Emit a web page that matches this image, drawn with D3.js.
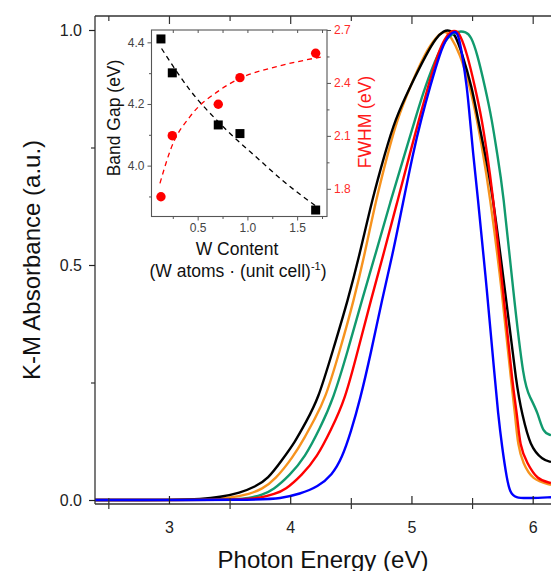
<!DOCTYPE html>
<html>
<head>
<meta charset="utf-8">
<script src="https://cdn.jsdelivr.net/npm/d3@7/dist/d3.min.js"></script>
<style>
  body { margin: 0; background: #fff; }
  svg { display: block; font-family: "Liberation Sans", Arial, sans-serif; }
</style>
</head>
<body>
<div id="chart"></div>
<script>
// main spectra: [photon energy (eV), K-M absorbance]
const specBlack = [[2.39,0],[3.091,0],[3.256,0.002],[3.421,0.006],[3.586,0.015],[3.709,0.028],[3.817,0.045],[3.932,0.085],[4.039,0.123],[4.13,0.166],[4.229,0.213],[4.353,0.319],[4.477,0.426],[4.576,0.526],[4.675,0.638],[4.782,0.738],[4.864,0.809],[4.988,0.879],[5.128,0.951],[5.202,0.983],[5.268,0.999],[5.318,1.0],[5.359,0.991],[5.417,0.951],[5.499,0.879],[5.549,0.809],[5.607,0.738],[5.664,0.66],[5.772,0.447],[5.871,0.234],[5.912,0.185],[5.978,0.113],[6.085,0.085],[6.151,0.081]]
const specOrange = [[2.39,0],[3.256,0],[3.503,0.004],[3.668,0.013],[3.767,0.023],[3.874,0.043],[4.023,0.091],[4.122,0.134],[4.196,0.17],[4.287,0.213],[4.411,0.319],[4.526,0.426],[4.617,0.526],[4.707,0.638],[4.806,0.738],[4.881,0.809],[4.988,0.879],[5.112,0.951],[5.202,0.985],[5.277,1.0],[5.318,0.989],[5.4,0.951],[5.483,0.879],[5.541,0.809],[5.59,0.738],[5.64,0.66],[5.747,0.447],[5.829,0.234],[5.854,0.185],[5.879,0.113],[5.92,0.079],[5.994,0.043],[6.151,0.032]]
const specGreen = [[2.39,0],[3.503,0],[3.668,0.004],[3.767,0.011],[3.858,0.021],[3.998,0.053],[4.122,0.091],[4.246,0.153],[4.353,0.213],[4.477,0.319],[4.592,0.426],[4.707,0.526],[4.823,0.632],[4.947,0.738],[5.029,0.809],[5.112,0.879],[5.219,0.951],[5.301,0.987],[5.384,0.998],[5.45,0.996],[5.491,0.987],[5.541,0.951],[5.607,0.879],[5.664,0.809],[5.706,0.738],[5.755,0.66],[5.838,0.447],[5.928,0.245],[5.978,0.219],[6.044,0.185],[6.085,0.143],[6.151,0.138]]
const specRed = [[2.39,0],[3.586,0],[3.751,0.004],[3.874,0.013],[3.957,0.021],[4.097,0.053],[4.221,0.091],[4.336,0.149],[4.452,0.213],[4.559,0.319],[4.666,0.426],[4.773,0.526],[4.881,0.632],[4.988,0.738],[5.062,0.809],[5.136,0.879],[5.219,0.951],[5.277,0.983],[5.326,0.998],[5.367,0.999],[5.4,0.991],[5.458,0.951],[5.524,0.879],[5.582,0.809],[5.623,0.738],[5.664,0.666],[5.755,0.447],[5.838,0.234],[5.871,0.185],[5.895,0.113],[5.953,0.079],[6.036,0.043],[6.151,0.036]]
const specBlue = [[2.39,0],[3.751,0],[3.916,0.003],[4.081,0.013],[4.229,0.028],[4.345,0.053],[4.427,0.089],[4.501,0.145],[4.576,0.213],[4.666,0.313],[4.757,0.426],[4.848,0.526],[4.93,0.632],[5.013,0.738],[5.079,0.809],[5.153,0.879],[5.235,0.951],[5.293,0.985],[5.351,0.998],[5.384,0.994],[5.417,0.951],[5.458,0.879],[5.483,0.809],[5.508,0.738],[5.541,0.66],[5.623,0.447],[5.689,0.255],[5.714,0.185],[5.747,0.113],[5.788,0.043],[5.813,0.017],[5.854,0.004],[5.978,0.004],[6.151,0.006]]

const spectra = [
  { data: specOrange, color: '#f7931e' },
  { data: specBlack, color: '#000000' },
  { data: specGreen, color: '#119a6e' },
  { data: specRed, color: '#ff0000' },
  { data: specBlue, color: '#0000ff' },
]

const xMajor = [3, 4, 5, 6]
const xMinor = [2.5, 3.5, 4.5, 5.5]
const yMajor = [0, 0.5, 1.0]
const yMinor = [0.25, 0.75]

// inset: W content vs band gap / FWHM
const wContent = [0.131, 0.245, 0.707, 0.925, 1.686]
const bandGap = [4.411, 4.301, 4.132, 4.104, 3.856]
const fwhm = [1.755, 2.101, 2.279, 2.43, 2.568]
const gapFitW = [0.137, 0.423, 0.757, 1.126, 1.36, 1.697]
const gapFit = [4.38, 4.245, 4.126, 4.017, 3.95, 3.867]
const fwhmFitW = [0.121, 0.239, 0.423, 0.724, 0.925, 1.294, 1.76]
const fwhmFit = [1.831, 2.039, 2.209, 2.36, 2.426, 2.492, 2.549]
const wMajor = [0.5, 1.0, 1.5]
const wMinor = [0.25, 0.75, 1.25, 1.75]
const gapMajor = [4.0, 4.2, 4.4]
const gapMinor = [3.9, 4.1, 4.3]
const fwhmMajor = [1.8, 2.1, 2.4, 2.7]
const fwhmMinor = [1.95, 2.25, 2.55]

const W = 551, H = 571
const box = { left: 95, right: 551, top: 16, bottom: 504 }
const ibox = { left: 151.5, right: 327, top: 30, bottom: 216.5 }
const axisCol = '#333'

const svg = d3.select('#chart').append('svg')
  .attr('width', W)
  .attr('height', H)

// Scales
const x = d3.scaleLinear().domain([2.39, 6.151]).range([box.left, box.right])
const y = d3.scaleLinear().domain([0, 1]).range([500, 30])

svg.append('clipPath').attr('id', 'clip')
  .append('rect')
  .attr('x', box.left).attr('y', box.top)
  .attr('width', box.right - box.left).attr('height', box.bottom - box.top)

// basis curve smooths the hand-read points like the measured spectra
const line = d3.line()
  .x(d => x(d[0]))
  .y(d => y(d[1]))
  .curve(d3.curveBasis)

svg.append('g')
  .attr('clip-path', 'url(#clip)')
  .selectAll('path')
  .data(spectra)
  .join('path')
  .attr('d', d => line(d.data))
  .attr('fill', 'none')
  .attr('stroke', d => d.color)
  .attr('stroke-width', 2.4)
  .attr('stroke-linejoin', 'round')

// frame
const frame = svg.append('g')
  .attr('stroke', axisCol)
  .attr('stroke-width', 1.3)
frame.append('line').attr('x1', box.left).attr('x2', box.left).attr('y1', box.top).attr('y2', box.bottom)
frame.append('line').attr('x1', box.left).attr('x2', box.right).attr('y1', box.top).attr('y2', box.top)
frame.append('line').attr('x1', box.left).attr('x2', box.right).attr('y1', box.bottom).attr('y2', box.bottom)

function styleAxis(g, col, size) {
  g.select('.domain').remove()
  g.selectAll('.tick line').attr('stroke', col).attr('stroke-width', 1.2)
  g.selectAll('.tick text').attr('fill', col).style('font-size', size + 'px').style('font-family', '"Liberation Sans", Arial, sans-serif')
}

// bottom axis: labels + inward major ticks
svg.append('g')
  .attr('transform', `translate(0,${box.bottom})`)
  .call(d3.axisBottom(x).tickValues(xMajor).tickSizeInner(-8).tickSizeOuter(0).tickPadding(18).tickFormat(d3.format('d')))
  .call(g => styleAxis(g, '#222', 16))
// bottom minor ticks crossing
svg.append('g')
  .attr('transform', `translate(0,${box.bottom})`)
  .call(d3.axisBottom(x).tickValues(xMinor).tickSize(5).tickFormat(''))
  .call(g => styleAxis(g, axisCol, 16))
svg.append('g')
  .attr('transform', `translate(0,${box.bottom})`)
  .call(d3.axisBottom(x).tickValues(xMinor).tickSize(-6).tickFormat(''))
  .call(g => styleAxis(g, axisCol, 16))
// top inward ticks
svg.append('g')
  .attr('transform', `translate(0,${box.top})`)
  .call(d3.axisTop(x).tickValues(xMajor).tickSize(-8).tickFormat(''))
  .call(g => styleAxis(g, axisCol, 16))
svg.append('g')
  .attr('transform', `translate(0,${box.top})`)
  .call(d3.axisTop(x).tickValues(xMinor).tickSize(-5).tickFormat(''))
  .call(g => styleAxis(g, axisCol, 16))

// left axis
svg.append('g')
  .attr('transform', `translate(${box.left},0)`)
  .call(d3.axisLeft(y).tickValues(yMajor).tickSize(6).tickPadding(7).tickFormat(d3.format('.1f')))
  .call(g => styleAxis(g, '#222', 16))
svg.append('g')
  .attr('transform', `translate(${box.left},0)`)
  .call(d3.axisLeft(y).tickValues(yMinor).tickSize(4).tickFormat(''))
  .call(g => styleAxis(g, axisCol, 16))

// titles
svg.append('text')
  .attr('x', (box.left + box.right) / 2)
  .attr('y', 568)
  .attr('text-anchor', 'middle')
  .attr('fill', '#111')
  .style('font-size', '24px')
  .text('Photon Energy (eV)')

svg.append('text')
  .attr('transform', 'translate(40,260) rotate(-90)')
  .attr('text-anchor', 'middle')
  .attr('fill', '#111')
  .style('font-size', '24px')
  .text('K-M Absorbance (a.u.)')

// ---------- inset ----------
const ix = d3.scaleLinear().domain([0.036, 1.8]).range([ibox.left, ibox.right])
const iyL = d3.scaleLinear().domain([3.835, 4.44]).range([ibox.bottom, ibox.top])
const iyR = d3.scaleLinear().domain([1.643, 2.7]).range([ibox.bottom, ibox.top])

const inset = svg.append('g')

inset.append('rect')
  .attr('x', ibox.left).attr('y', ibox.top)
  .attr('width', ibox.right - ibox.left).attr('height', ibox.bottom - ibox.top)
  .attr('fill', '#fff')
  .attr('stroke', '#555')
  .attr('stroke-width', 1.1)

function insetAxis(axis, tr, col) {
  inset.append('g')
    .attr('transform', tr)
    .call(axis)
    .call(g => styleAxis(g, col, 12))
    .call(g => g.selectAll('.tick line').attr('stroke', '#555').attr('stroke-width', 1))
}
insetAxis(d3.axisBottom(ix).tickValues(wMajor).tickSize(4).tickPadding(3).tickFormat(d3.format('.1f')), `translate(0,${ibox.bottom})`, '#444')
insetAxis(d3.axisBottom(ix).tickValues(wMinor).tickSize(2.5).tickFormat(''), `translate(0,${ibox.bottom})`, '#444')
insetAxis(d3.axisTop(ix).tickValues(wMajor.concat(wMinor)).tickSize(-3).tickFormat(''), `translate(0,${ibox.top})`, '#444')
insetAxis(d3.axisLeft(iyL).tickValues(gapMajor).tickSize(4).tickPadding(3).tickFormat(d3.format('.1f')), `translate(${ibox.left},0)`, '#444')
insetAxis(d3.axisLeft(iyL).tickValues(gapMinor).tickSize(2.5).tickFormat(''), `translate(${ibox.left},0)`, '#444')
insetAxis(d3.axisRight(iyR).tickValues(fwhmMajor).tickSize(4).tickPadding(3).tickFormat(d3.format('.1f')), `translate(${ibox.right},0)`, '#ff2a2a')
insetAxis(d3.axisRight(iyR).tickValues(fwhmMinor).tickSize(2.5).tickFormat(''), `translate(${ibox.right},0)`, '#ff2a2a')

// dashed fits
const gapLine = d3.line()
  .x(d => ix(d[0]))
  .y(d => iyL(d[1]))
  .curve(d3.curveMonotoneX)
const fwhmLine = d3.line()
  .x(d => ix(d[0]))
  .y(d => iyR(d[1]))
  .curve(d3.curveMonotoneX)

inset.append('path')
  .datum(d3.zip(gapFitW, gapFit))
  .attr('d', gapLine)
  .attr('fill', 'none')
  .attr('stroke', '#000')
  .attr('stroke-width', 1.3)
  .attr('stroke-dasharray', '5,4')

inset.append('path')
  .datum(d3.zip(fwhmFitW, fwhmFit))
  .attr('d', fwhmLine)
  .attr('fill', 'none')
  .attr('stroke', '#ff0000')
  .attr('stroke-width', 1.3)
  .attr('stroke-dasharray', '5,4')

// markers
inset.selectAll('rect.sq')
  .data(d3.zip(wContent, bandGap))
  .join('rect')
  .attr('class', 'sq')
  .attr('x', d => ix(d[0]) - 4.5)
  .attr('y', d => iyL(d[1]) - 4.5)
  .attr('width', 9)
  .attr('height', 9)
  .attr('fill', '#000')

inset.selectAll('circle')
  .data(d3.zip(wContent, fwhm))
  .join('circle')
  .attr('cx', d => ix(d[0]))
  .attr('cy', d => iyR(d[1]))
  .attr('r', 4.7)
  .attr('fill', '#ff0000')

// inset titles
inset.append('text')
  .attr('transform', 'translate(120,118) rotate(-90)')
  .attr('text-anchor', 'middle')
  .attr('fill', '#111')
  .style('font-size', '17.5px')
  .text('Band Gap (eV)')

inset.append('text')
  .attr('transform', 'translate(371,122) rotate(-90)')
  .attr('text-anchor', 'middle')
  .attr('fill', '#ff1a1a')
  .style('font-size', '17.5px')
  .text('FWHM (eV)')

inset.append('text')
  .attr('x', 237)
  .attr('y', 255)
  .attr('text-anchor', 'middle')
  .attr('fill', '#111')
  .style('font-size', '17.5px')
  .text('W Content')

const unitText = inset.append('text')
  .attr('x', 238)
  .attr('y', 277)
  .attr('text-anchor', 'middle')
  .attr('fill', '#111')
  .style('font-size', '17.5px')
unitText.append('tspan').text('(W atoms \u00b7 (unit cell)')
unitText.append('tspan').attr('dy', -7).style('font-size', '11px').text('-1')
unitText.append('tspan').attr('dy', 7).text(')')
</script>
</body>
</html>
